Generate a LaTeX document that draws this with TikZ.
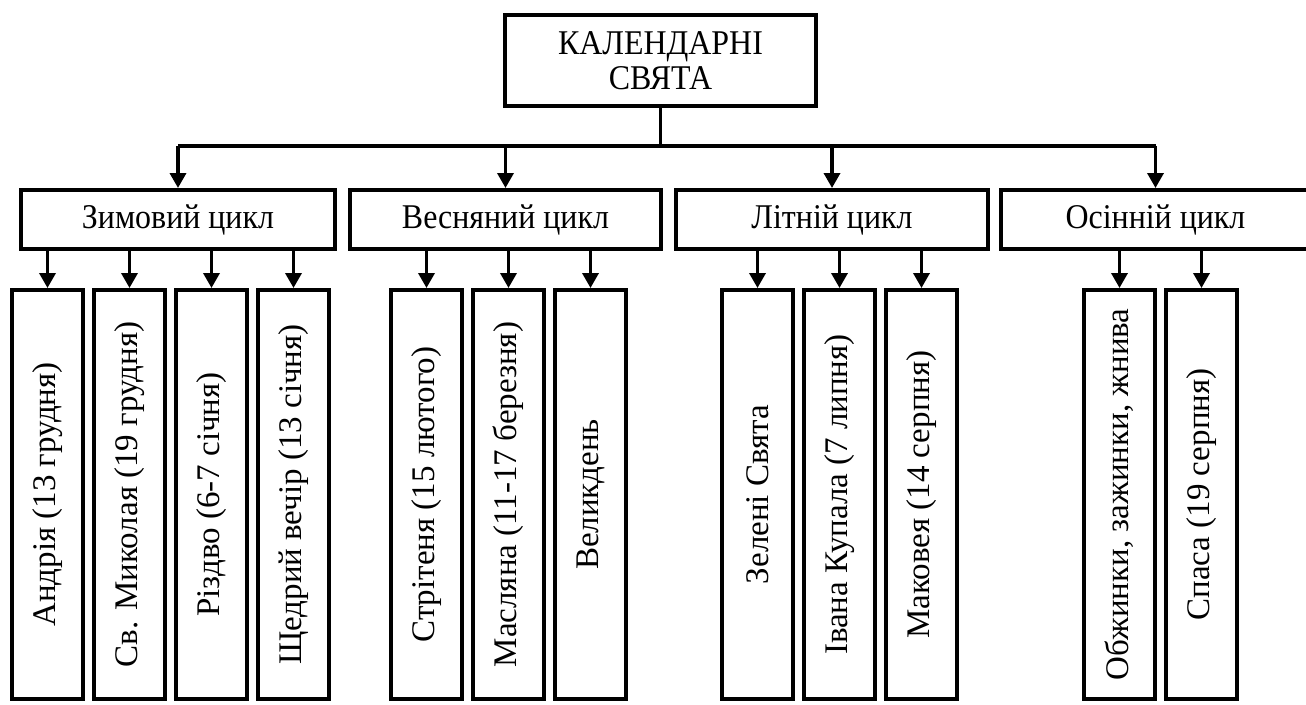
\documentclass[tikz,border=0pt]{standalone}
\usepackage{fontspec}
\setmainfont{Liberation Serif}
\newfontfamily\narrowserif{Liberation Serif}[FakeStretch=0.92]
\usepackage{tikz}
\usetikzlibrary{arrows.meta,positioning}

\begin{document}
\begin{tikzpicture}[x=1pt, y=-1pt, node distance=7pt and 7pt, line width=3.5pt, >={Triangle[width=16pt,length=15pt]}, font=\narrowserif\fontsize{34.7}{35}\selectfont, main/.style = {draw, rectangle, line width=4pt, inner sep=0pt, align=center}, cycle/.style = {main, minimum width=312pt, minimum height=59pt}, leaf/.style = {main, minimum width=71pt, minimum height=409pt, font=\rmfamily\fontsize{33}{36}\selectfont}]
\useasboundingbox (0,0) rectangle (1306,704);

\node[main, minimum width=311pt, minimum height=91pt] (calendar) at (660.5,60.5) {КАЛЕНДАРНІ\\СВЯТА};
\coordinate[below=38pt of calendar] (bus);

\node[cycle, minimum width=314pt] (winter) at (178,219.5) {Зимовий цикл};
\node[cycle, minimum width=311pt] (spring) [right=11pt of winter] {Весняний цикл};
\node[cycle] (summer) [right=11pt of spring] {Літній цикл};
\node[cycle, minimum width=309pt] (autumn) [right=9pt of summer] {Осінній цикл};

\node[leaf] (andriy) at (47.5,494.5) {\rotatebox{90}{Андрія (13 грудня)}};
\node[leaf] (mykolay) [right=of andriy] {\rotatebox{90}{Св. Миколая (19 грудня)}};
\node[leaf] (rizdvo) [right=of mykolay] {\rotatebox{90}{Різдво (6-7 січня)}};
\node[leaf] (shchedryi) [right=of rizdvo] {\rotatebox{90}{Щедрий вечір (13 січня)}};

\node[leaf] (stritenya) at (426.5,494.5) {\rotatebox{90}{Стрітеня (15 лютого)}};
\node[leaf] (maslyana) [right=of stritenya] {\rotatebox{90}{Масляна (11-17 березня)}};
\node[leaf] (velykden) [right=of maslyana] {\rotatebox{90}{Великдень}};

\node[leaf] (zeleni) at (757.5,494.5) {\rotatebox{90}{Зелені Свята}};
\node[leaf] (kupala) [right=of zeleni] {\rotatebox{90}{Івана Купала (7 липня)}};
\node[leaf] (makoveya) [right=of kupala] {\rotatebox{90}{Маковея (14 серпня)}};

\node[leaf] (obzhynky) at (1119.5,494.5) {\rotatebox{90}{Обжинки, зажинки, жнива}};
\node[leaf] (spasa) [right=of obzhynky] {\rotatebox{90}{Спаса (19 серпня)}};

\draw (calendar) -- (bus);
\draw (winter.north |- bus) -- (autumn.north |- bus);
\draw[->] (winter.north |- bus) -- (winter.north);
\draw[->] (spring.north |- bus) -- (spring.north);
\draw[->] (summer.north |- bus) -- (summer.north);
\draw[->] (autumn.north |- bus) -- (autumn.north);

\draw[->] (andriy.north |- winter.south) -- (andriy.north);
\draw[->] (mykolay.north |- winter.south) -- (mykolay.north);
\draw[->] (rizdvo.north |- winter.south) -- (rizdvo.north);
\draw[->] (shchedryi.north |- winter.south) -- (shchedryi.north);
\draw[->] (stritenya.north |- spring.south) -- (stritenya.north);
\draw[->] (maslyana.north |- spring.south) -- (maslyana.north);
\draw[->] (velykden.north |- spring.south) -- (velykden.north);
\draw[->] (zeleni.north |- summer.south) -- (zeleni.north);
\draw[->] (kupala.north |- summer.south) -- (kupala.north);
\draw[->] (makoveya.north |- summer.south) -- (makoveya.north);
\draw[->] (obzhynky.north |- autumn.south) -- (obzhynky.north);
\draw[->] (spasa.north |- autumn.south) -- (spasa.north);
\end{tikzpicture}
\end{document}
